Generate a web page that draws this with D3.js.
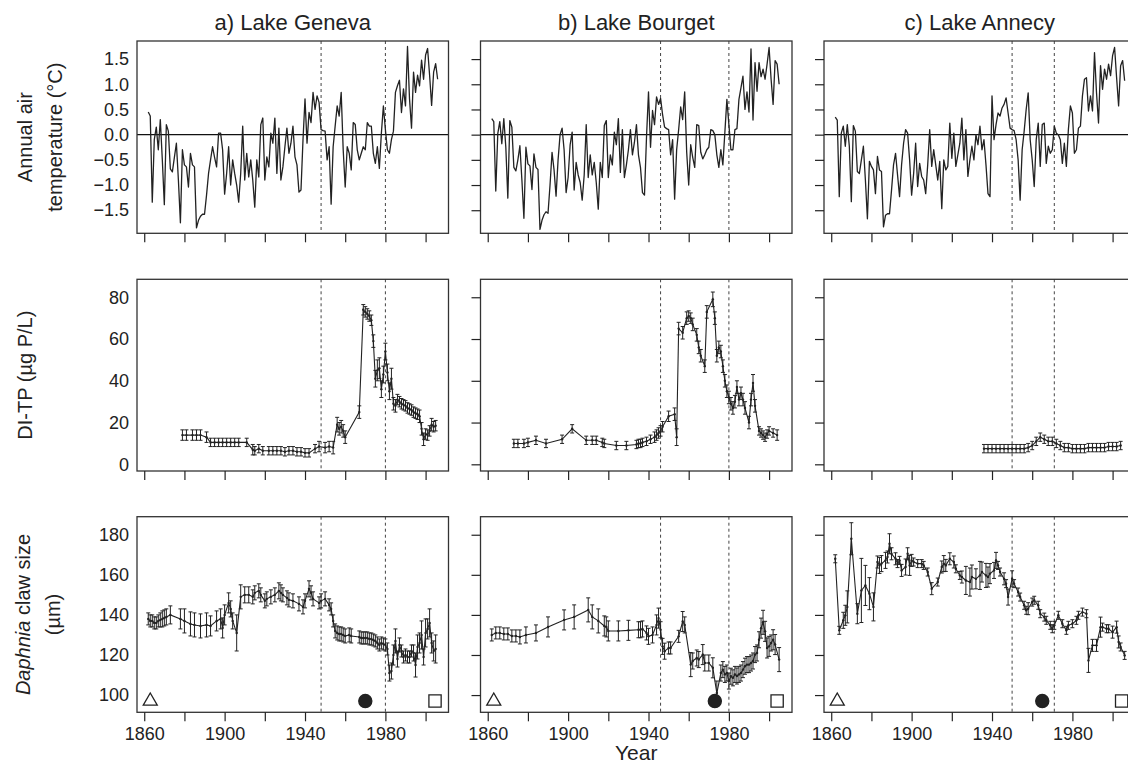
<!DOCTYPE html>
<html>
<head>
<meta charset="utf-8">
<script src="https://cdn.jsdelivr.net/npm/d3@7"></script>
<style>
  body { margin: 0; background: #fff; }
</style>
</head>
<body>
<div id="vis"></div>
<script>

// Lake names, period lines and the three sediment markers for each column
const LAKES = ["a) Lake Geneva", "b) Lake Bourget", "c) Lake Annecy"];
const PERIOD_LINES = [[1948, 1980], [1946, 1980], [1950, 1971]];
const MARKER_YEARS = [[1863, 1970, 2004.7], [1863, 1973, 2004], [1863, 1965, 2004.5]];
const MARKER_VALUE = 97;

// Annual air temperature anomalies (first year 1862)
const TEMP_START = 1862;
const GENEVA_TEMP = [
  0.45, 0.37, -1.34, -0.10, 0.15, -0.30, 0.30, -0.50, -1.39, 0.20,
  0.07, -0.68, -0.74, -0.45, -0.17, -0.90, -1.75, -0.30, -0.60, -0.64,
  -1.04, -0.37, -0.60, -0.64, -1.85, -1.70, -1.62, -1.58, -1.58, -1.20,
  -0.77, -0.50, -0.24, -0.45, -0.64, 0.03, 0.03, -0.30, -1.18, -0.77,
  -0.24, -1.00, -0.50, -0.77, -1.00, -1.34, -0.77, 0.17, -0.90, -0.37,
  -0.84, -0.50, -0.90, -1.44, -0.50, -0.84, 0.20, 0.33, -0.90, -0.44,
  -0.64, 0.03, -0.17, 0.33, -0.77, 0.13, -0.90, -0.64, -0.24, 0.13,
  -0.37, -0.17, 0.17, -0.44, -0.60, -1.14, -1.10, -0.10, 0.71, -0.17,
  0.44, 0.24, 0.84, 0.50, 0.77, 0.64, 0.10, 0.08, 0.07, -0.50,
  -0.24, -1.38, -0.24, 0.17, 0.57, 0.37, 0.84, -0.30, -1.04, -0.24,
  -0.37, -0.70, 0.24, 0.20, -0.30, -0.50, -0.37, -0.24, -0.30, 0.24,
  0.17, 0.17, -0.37, -0.57, -0.24, -0.67, 0.03, 0.57, 0.10, -0.30,
  -0.37, -0.10, 0.07, 0.84, 0.97, 1.08, 0.44, 0.91, 0.57, 1.75,
  0.71, 0.13, 1.24, 0.84, 1.18, 0.97, 1.48, 1.10, 1.58, 1.71,
  1.18, 0.58, 1.24, 1.41, 1.10
];
const BOURGET_TEMP = [
  0.32, 0.26, -1.12, 0.02, 0.26, -0.18, 0.32, -0.25, -1.26, 0.28,
  0.15, -0.65, -0.72, -0.50, -0.22, -0.90, -1.66, -0.25, -0.58, -0.62,
  -1.09, -0.38, -0.65, -0.69, -1.88, -1.70, -1.59, -1.53, -1.56, -1.00,
  -0.35, -0.70, -1.22, -0.50, 0.00, 0.13, -0.30, -1.15, -0.85, -0.20,
  0.05, -1.10, -0.55, -0.80, -0.95, -1.30, -0.80, 0.20, -0.85, -0.40,
  -0.80, -0.55, -0.95, -1.48, -0.55, -0.85, 0.18, 0.28, -0.85, -0.40,
  -0.60, 0.05, -0.20, 0.32, -0.75, 0.10, -0.85, -0.60, -0.30, 0.10,
  -0.40, -0.15, 0.20, -0.40, -0.65, -1.15, -1.20, -0.05, 0.85, -0.25,
  0.48, 0.20, 0.75, 0.60, 0.72, 0.40, 0.15, 0.12, 0.10, -0.40,
  -0.10, -1.28, -0.30, 0.10, 0.55, 0.30, 0.85, -0.35, -1.00, -0.20,
  -0.45, -0.65, 0.20, 0.18, -0.35, -0.48, -0.40, -0.30, -0.25, 0.10,
  0.08, 0.00, -0.40, -0.65, -0.30, -0.60, 0.05, 0.70, 0.20, -0.30,
  -0.30, 0.10, 0.12, 0.70, 0.93, 1.16, 0.50, 0.85, 0.45, 1.70,
  0.29, 1.43, 0.86, 1.43, 1.15, 1.30, 1.10, 1.40, 1.73, 1.10,
  0.60, 1.47, 1.40, 1.00
];
const ANNECY_TEMP = [
  0.35, 0.29, -1.23, 0.03, 0.17, -0.23, 0.20, -0.23, -1.33, 0.18,
  0.07, -0.73, -0.77, -0.50, -0.23, -0.90, -1.67, -0.53, -0.63, -0.70,
  -1.17, -0.43, -0.70, -0.73, -1.83, -1.60, -1.57, -1.57, -1.10, -0.60,
  -0.37, -0.80, -1.23, -0.60, -0.17, 0.10, 0.03, -0.50, -1.20, -0.77,
  -0.17, -1.03, -0.57, -0.83, -0.90, -1.17, -0.60, 0.10, -0.63, -0.30,
  -0.60, -0.90, -0.53, -1.47, -0.50, -0.70, -0.63, 0.23, -0.47, 0.03,
  -0.63, -0.40, -0.17, 0.33, -0.50, 0.10, -0.83, -0.50, -0.23, -0.50,
  0.00, -0.20, 0.17, -0.30, -0.10, -0.60, -1.17, -1.23, 0.77, -0.10,
  0.20, 0.43, 0.37, 0.53, 0.60, 0.73, 0.43, 0.13, 0.10, 0.08,
  -0.10, -0.50, -1.30, -0.30, 0.07, 0.50, 0.83, -0.10, -0.50, -1.03,
  -0.10, 0.23, -0.63, 0.20, 0.23, -0.57, -0.23, -0.37, -0.30, 0.17,
  0.03, 0.00, -0.10, -0.57, -0.17, -0.63, 0.10, 0.57, 0.43, -0.37,
  -0.30, 0.13, 0.17, 0.77, 1.10, 1.13, 0.47, 0.77, 0.47, 1.63,
  0.83, 0.23, 1.37, 0.90, 1.30, 1.10, 1.40, 1.17, 1.57, 1.73,
  1.13, 0.57, 1.37, 1.47, 1.07
];

// Diatom-inferred total phosphorus: [year, value, error]
const GENEVA_TP = [
  [1879, 14, 2.5], [1881, 14, 2.5], [1884, 14, 2.5], [1886, 14, 2.5], [1888, 14, 2.5], [1891, 13, 2.5],
  [1893, 10.5, 2], [1895, 10.5, 2], [1897, 10.5, 2], [1899, 10.5, 2], [1901, 10.5, 2], [1903, 10.5, 2],
  [1905, 10.5, 2], [1907, 10.5, 2], [1911, 10.5, 2],
  [1914, 7, 2.5], [1915, 6.5, 2], [1917, 7.5, 2], [1919, 6.5, 2],
  [1922, 6.5, 2], [1924, 6.5, 2], [1926, 6.5, 2], [1928, 6.5, 2], [1930, 6, 2], [1932, 6.5, 2],
  [1934, 6.5, 2], [1936, 6, 2], [1938, 6, 2], [1940, 5.5, 2], [1942, 5.5, 2],
  [1945, 7.5, 2], [1947, 8.5, 2.5], [1950, 8, 2.5], [1952, 8.5, 2.5], [1954, 8, 3],
  [1956, 19, 3.5], [1957, 17, 3], [1958, 18, 3], [1959, 16, 3], [1960, 13, 3], [1967, 25, 3],
  [1969, 74, 2.5], [1970, 73, 2.5], [1971, 72, 2.5], [1972, 71, 2.5], [1973, 69, 2.5], [1974, 59, 3],
  [1975, 41, 4], [1976, 45, 5], [1977, 46, 5], [1978, 36, 4], [1979, 43, 4], [1980, 54, 4],
  [1981, 44, 4], [1982, 35, 4], [1983, 41, 5], [1984, 29, 3], [1985, 28, 3], [1986, 31, 2.5],
  [1987, 30, 2.5], [1988, 29, 2.5], [1989, 28.5, 2.5], [1990, 28, 2.5], [1991, 27, 2.5],
  [1992, 26.5, 2.5], [1993, 26, 2.5], [1994, 25, 2.5], [1995, 24.5, 2.5], [1996, 24, 2.5],
  [1997, 23, 3], [1998, 17, 3], [1999, 12, 3], [2000, 14.5, 2.5], [2001, 14, 2.5], [2002, 16, 2.5],
  [2003, 19, 3], [2004, 18, 2.5], [2005, 18.5, 2.5]
];
const BOURGET_TP = [
  [1873, 10, 2], [1875, 10, 2], [1878, 10, 2], [1880, 10.5, 2], [1884, 11.5, 2], [1889, 10, 2],
  [1897, 12, 2], [1902, 17, 2], [1909, 11.5, 2], [1912, 11.5, 2], [1914, 11.5, 2], [1917, 10.5, 2],
  [1918, 10, 2], [1924, 9, 2], [1929, 9, 2], [1934, 9.5, 2], [1935, 10, 2], [1936, 10, 2],
  [1937, 10.5, 2], [1939, 11, 2], [1941, 12, 2], [1943, 13, 2.5], [1944, 14, 2.5], [1945, 15, 2.5],
  [1946, 16, 2.5], [1947, 18, 2.5], [1950, 23, 2.5], [1953, 24, 3], [1954, 13, 4], [1955, 65, 3],
  [1957, 63, 3], [1959, 70, 3], [1960, 71, 2.5], [1961, 70, 2.5], [1962, 67, 3], [1964, 62, 3],
  [1965, 56, 3], [1966, 52, 3], [1968, 47, 3], [1969, 73, 3], [1972, 79, 3.5], [1973, 70, 3],
  [1974, 52, 3], [1975, 56, 3], [1976, 54, 3], [1977, 47, 3], [1978, 40, 3], [1979, 35, 3],
  [1980, 32, 3], [1981, 29, 3], [1982, 27, 3], [1983, 30, 3], [1984, 37, 3], [1985, 31, 3],
  [1986, 34, 3], [1987, 31, 3], [1988, 27, 3], [1990, 20, 3], [1991, 31, 3], [1992, 39, 4],
  [1993, 28, 3], [1995, 16, 2], [1996, 15, 2], [1997, 14, 2], [1998, 13, 2], [1999, 14.5, 2],
  [2000, 16, 2], [2002, 15, 2], [2004, 14, 2.5]
];
const ANNECY_TP = [
  [1936, 7.5, 2], [1938, 7.5, 2], [1940, 7.5, 2], [1942, 7.5, 2], [1944, 7.5, 2], [1946, 7.5, 2],
  [1948, 7.5, 2], [1950, 7.5, 2], [1952, 7.5, 2], [1954, 7.5, 2], [1956, 7.5, 2], [1958, 8, 2],
  [1960, 9, 2], [1962, 11, 2], [1964, 13, 2], [1966, 12, 2], [1968, 11, 2], [1970, 11, 2],
  [1972, 10, 2], [1974, 9, 2], [1976, 8, 2], [1978, 8, 2], [1980, 7.5, 2], [1982, 7.5, 2],
  [1984, 7.5, 2], [1986, 7.5, 2], [1988, 8, 2], [1990, 8, 2], [1992, 8, 2], [1994, 8, 2],
  [1996, 8, 2], [1998, 8.5, 2], [2000, 8.5, 2], [2002, 8.5, 2], [2004, 9, 2]
];

// Daphnia claw size: [year, value, error]
const GENEVA_CLAW = [
  [1862, 138, 3], [1863, 137, 3], [1864, 137, 3], [1865, 136, 3], [1866, 136, 3], [1867, 137, 3],
  [1868, 137.5, 3.5], [1869, 138, 4], [1870, 138.5, 4], [1871, 139, 4], [1873, 140, 4.5],
  [1878, 138, 5], [1880, 137, 6], [1883, 135.5, 6], [1885, 135, 6], [1888, 134.5, 6], [1891, 135, 6],
  [1893, 134.5, 5], [1896, 137, 5], [1898, 138, 5], [1899, 133.5, 5], [1900, 140, 5], [1902, 146, 5],
  [1903, 143, 4], [1904, 137, 4], [1906, 131, 9], [1908, 149, 6], [1910, 150, 4], [1912, 150, 4],
  [1914, 149, 3.5], [1915, 151, 3.5], [1917, 152, 3.5], [1918, 150, 3.5], [1920, 147, 3.5],
  [1921, 148, 3.5], [1923, 149, 3.5], [1925, 150, 3.5], [1927, 152, 4], [1928, 151, 4],
  [1929, 150, 3.5], [1931, 148.5, 3.5], [1932, 147.5, 3.5], [1934, 147, 3.5], [1937, 145.5, 3.5],
  [1939, 144, 3.5], [1940, 147, 3.5], [1942, 153, 4], [1943, 151, 3.5], [1944, 148, 3.5],
  [1947, 146, 3], [1948, 147, 3.5], [1950, 148, 3.5], [1952, 145, 3], [1953, 143, 3], [1954, 137, 3],
  [1955, 132, 3.5], [1956, 131, 3.5], [1957, 130.5, 3.5], [1958, 130.5, 3.5], [1959, 130, 3.5],
  [1960, 129.5, 3.5], [1962, 130, 3.5], [1963, 129.5, 3.5], [1967, 129, 3], [1968, 128.5, 3],
  [1969, 128.5, 3], [1970, 128.5, 3], [1971, 128.5, 3], [1972, 128, 3], [1973, 128, 3],
  [1974, 127.5, 3], [1975, 127, 3], [1976, 126, 3], [1977, 125, 3], [1978, 126, 3], [1979, 125.5, 3],
  [1980, 125, 3], [1981, 123, 3], [1982, 111, 4], [1983, 112, 4], [1984, 120, 5], [1985, 127, 6],
  [1986, 118, 4], [1987, 125, 3.5], [1988, 122, 3], [1989, 119, 3], [1990, 120, 3], [1991, 119, 3],
  [1992, 119, 3], [1993, 122, 3], [1994, 121, 4], [1995, 115, 6], [1996, 124, 6], [1997, 126, 5],
  [1998, 130, 7], [1999, 119, 4], [2000, 131, 7], [2001, 133, 5], [2002, 136, 7], [2003, 126, 5],
  [2004, 122, 5], [2005, 123, 7]
];
const BOURGET_CLAW = [
  [1862, 130, 3], [1864, 131, 3], [1866, 131, 3], [1868, 130.5, 3], [1870, 130.5, 3], [1872, 129.5, 3],
  [1874, 129.5, 3], [1876, 129, 3.5], [1879, 130, 4], [1884, 131, 4], [1890, 134, 5], [1898, 137.5, 5],
  [1903, 139, 6], [1910, 142.5, 6], [1912, 139, 6], [1915, 137, 6], [1918, 134.5, 5], [1919, 134, 5],
  [1920, 132, 5], [1925, 132, 5], [1930, 132.3, 5], [1935, 132.6, 4], [1936, 132.6, 4], [1937, 133, 4],
  [1939, 131, 3.5], [1940, 129.3, 4], [1942, 130, 4], [1944, 135, 5], [1945, 138.4, 5], [1946, 132.6, 4],
  [1947, 124.3, 4], [1948, 121.9, 4], [1950, 123.5, 3], [1951, 123.5, 3], [1955, 129.3, 3],
  [1957, 136.7, 5], [1958, 135, 4], [1961, 115.2, 6], [1962, 117, 4], [1964, 118.5, 4],
  [1965, 117.7, 4], [1967, 120.2, 5], [1968, 116, 4], [1970, 116, 4], [1972, 113.6, 5], [1974, 101, 6],
  [1976, 111, 4], [1977, 112.7, 4], [1978, 110.3, 4], [1979, 111, 4], [1980, 107, 4], [1981, 109.4, 4],
  [1982, 108.6, 4], [1983, 110.3, 4], [1984, 109.5, 4], [1985, 110.3, 4], [1986, 111, 4],
  [1987, 112.7, 4], [1988, 114.4, 4], [1989, 115.2, 4], [1990, 115.2, 4], [1991, 116, 4], [1992, 117, 4],
  [1993, 120.2, 4], [1994, 121, 4], [1995, 127.6, 4], [1996, 133.4, 5], [1997, 136.3, 6],
  [1998, 131.8, 5], [1999, 123.5, 5], [2000, 124.3, 5], [2001, 126, 4], [2002, 127.6, 5],
  [2003, 125.2, 5], [2005, 117.7, 6]
];
const ANNECY_CLAW = [
  [1862, 168, 2], [1864, 132.3, 2], [1866, 137.3, 4], [1867, 139.8, 5], [1868, 144, 8], [1870, 178, 8],
  [1873, 140.6, 5], [1875, 152.2, 16], [1877, 154.7, 10], [1879, 150.6, 8], [1881, 144, 7],
  [1883, 166.4, 3], [1884, 164.7, 4], [1885, 165.6, 4], [1887, 167.2, 4], [1888, 168.9, 3],
  [1889, 175.5, 5], [1890, 170.5, 3], [1892, 168, 3], [1893, 165.6, 2], [1894, 167.2, 2],
  [1895, 162.2, 3], [1897, 163.9, 4], [1898, 170.5, 3], [1899, 164.7, 5], [1900, 167.2, 3],
  [1901, 166.4, 2], [1903, 165.6, 2], [1905, 165.6, 2], [1906, 164.7, 2], [1908, 161.4, 2],
  [1910, 153.1, 3], [1913, 156.4, 2], [1915, 163.9, 3], [1916, 165.6, 4], [1917, 164.7, 3],
  [1919, 168, 3], [1921, 166.4, 3], [1922, 163, 2], [1924, 159.7, 2], [1925, 158.9, 3],
  [1927, 157.2, 7], [1929, 156.4, 7], [1930, 158.9, 6], [1932, 158, 5], [1934, 159.7, 7],
  [1935, 161.4, 5], [1937, 159.7, 6], [1938, 158.9, 5], [1939, 160.6, 5], [1941, 162.2, 4],
  [1942, 167.2, 4], [1943, 164.7, 2], [1944, 161.4, 2], [1946, 158, 3], [1947, 155.6, 2],
  [1948, 148.9, 4], [1950, 158, 4], [1951, 155.6, 2], [1953, 151.4, 2], [1954, 148.9, 2],
  [1956, 144.8, 2], [1957, 142.3, 2], [1958, 143.1, 3], [1960, 146.4, 2], [1961, 147.3, 2],
  [1963, 144.8, 2], [1964, 140.6, 2], [1966, 138.9, 2], [1967, 137.3, 2], [1969, 134.8, 2],
  [1970, 133.1, 2], [1971, 134.8, 2], [1973, 139.8, 2], [1975, 135.6, 2], [1977, 132.3, 2],
  [1978, 134.8, 2], [1980, 135.6, 2], [1982, 137.3, 2], [1983, 139.8, 2], [1985, 141.4, 2],
  [1987, 140.6, 2], [1988, 117.3, 6], [1990, 124.8, 3], [1992, 124.8, 3], [1994, 133.9, 5],
  [1995, 133.9, 2], [1997, 133.1, 2], [1998, 133.1, 2], [2000, 131.4, 3], [2002, 133.9, 3],
  [2003, 126.5, 3], [2004, 124, 2], [2006, 119.8, 2]
];

// Tick values
const X_TICKS = [1860, 1880, 1900, 1920, 1940, 1960, 1980, 2000];
const X_LABELS = [1860, 1900, 1940, 1980];
const Y_TICKS = [
  [-1.5, -1.0, -0.5, 0.0, 0.5, 1.0, 1.5],
  [0, 20, 40, 60, 80],
  [100, 120, 140, 160, 180]
];

// Frame and panel layout
const FRAME_WIDTH = 1128;
const FRAME_HEIGHT = 764;
const COL_LEFT = [137, 480.5, 824];
const PANEL_WIDTH = 311.5;
const ROW_TOP = [41, 279.3, 516.7];
const ROW_HEIGHT = [192.3, 191.7, 195.6];
const FONT = "'Liberation Sans', Arial, Helvetica, sans-serif";
const INK = "#222";

const FRAME = d3.select("#vis")
                .append("svg")
                  .attr("width", FRAME_WIDTH)
                  .attr("height", FRAME_HEIGHT)
                  .attr("font-family", FONT);

// Scales shared by every panel of a row
const X_SCALE = d3.scaleLinear()
                  .domain([1856.4, 2011.4])
                  .range([0, PANEL_WIDTH]);

const Y_SCALES = [
  d3.scaleLinear().domain([-1.958, 1.859]).range([ROW_HEIGHT[0], 0]),
  d3.scaleLinear().domain([-3.2, 88.6]).range([ROW_HEIGHT[1], 0]),
  d3.scaleLinear().domain([91.4, 189]).range([ROW_HEIGHT[2], 0])
];
const Y_FORMATS = [d3.format(".1f"), d3.format("d"), d3.format("d")];

// Data tables built from the arrays above
const TEMP_DATA = [GENEVA_TEMP, BOURGET_TEMP, ANNECY_TEMP]
  .map((vals) => vals.map((v, i) => ({year: TEMP_START + i, value: v})));
const TP_DATA = [GENEVA_TP, BOURGET_TP, ANNECY_TP]
  .map((rows) => rows.map((d) => ({year: d[0], value: d[1], err: d[2]})));
const CLAW_DATA = [GENEVA_CLAW, BOURGET_CLAW, ANNECY_CLAW]
  .map((rows) => rows.map((d) => ({year: d[0], value: d[1], err: d[2]})));

// Draw a series with error bars (used for DI-TP and claw size)
function drawErrorSeries(g, data, yScale) {
  const line = d3.line()
                 .x((d) => X_SCALE(d.year))
                 .y((d) => yScale(d.value));

  g.append("path")
    .datum(data)
    .attr("d", line)
    .attr("fill", "none")
    .attr("stroke", INK)
    .attr("stroke-width", 1.1);

  const bars = g.selectAll(".ebar")
                .data(data)
                .enter()
                .append("g")
                  .attr("class", "ebar")
                  .attr("stroke", INK)
                  .attr("stroke-width", 1);

  bars.append("line")
    .attr("x1", (d) => X_SCALE(d.year))
    .attr("x2", (d) => X_SCALE(d.year))
    .attr("y1", (d) => yScale(d.value - d.err))
    .attr("y2", (d) => yScale(d.value + d.err));

  // caps
  [-1, 1].forEach((s) => {
    bars.append("line")
      .attr("x1", (d) => X_SCALE(d.year) - 2)
      .attr("x2", (d) => X_SCALE(d.year) + 2)
      .attr("y1", (d) => yScale(d.value + s * d.err))
      .attr("y2", (d) => yScale(d.value + s * d.err));
  });

  g.selectAll(".pt")
    .data(data)
    .enter()
    .append("circle")
      .attr("class", "pt")
      .attr("cx", (d) => X_SCALE(d.year))
      .attr("cy", (d) => yScale(d.value))
      .attr("r", 1.2)
      .attr("fill", INK);
}

// Build every panel
LAKES.forEach((lake, c) => {
  for (let r = 0; r < 3; r++) {
    const h = ROW_HEIGHT[r];
    const yScale = Y_SCALES[r];
    const g = FRAME.append("g")
                   .attr("transform", "translate(" + COL_LEFT[c] + "," + ROW_TOP[r] + ")");

    // dashed period lines
    g.selectAll(".period")
      .data(PERIOD_LINES[c])
      .enter()
      .append("line")
        .attr("x1", (d) => X_SCALE(d))
        .attr("x2", (d) => X_SCALE(d))
        .attr("y1", 0)
        .attr("y2", h)
        .attr("stroke", "#444")
        .attr("stroke-width", 1)
        .attr("stroke-dasharray", "3,3");

    if (r === 0) {
      // zero line and temperature curve
      g.append("line")
        .attr("x1", 0)
        .attr("x2", PANEL_WIDTH)
        .attr("y1", yScale(0))
        .attr("y2", yScale(0))
        .attr("stroke", "#111")
        .attr("stroke-width", 1.4);

      g.append("path")
        .datum(TEMP_DATA[c])
        .attr("d", d3.line().x((d) => X_SCALE(d.year)).y((d) => yScale(d.value)))
        .attr("fill", "none")
        .attr("stroke", INK)
        .attr("stroke-width", 1.3)
        .attr("stroke-linejoin", "round");
    } else if (r === 1) {
      drawErrorSeries(g, TP_DATA[c], yScale);
    } else {
      drawErrorSeries(g, CLAW_DATA[c], yScale);

      // sediment markers: triangle, filled circle, square
      const shapes = [
        {year: MARKER_YEARS[c][0], type: d3.symbolTriangle, size: 85, fill: "#fff"},
        {year: MARKER_YEARS[c][1], type: d3.symbolCircle, size: 135, fill: INK},
        {year: MARKER_YEARS[c][2], type: d3.symbolSquare, size: 150, fill: "#fff"}
      ];
      g.selectAll(".marker")
        .data(shapes)
        .enter()
        .append("path")
          .attr("class", "marker")
          .attr("transform", (d) => "translate(" + X_SCALE(d.year) + "," + yScale(MARKER_VALUE) + ")")
          .attr("d", (d) => d3.symbol(d.type, d.size)())
          .attr("fill", (d) => d.fill)
          .attr("stroke", INK)
          .attr("stroke-width", 1.3);
    }

    // panel frame
    g.append("rect")
      .attr("width", PANEL_WIDTH)
      .attr("height", h)
      .attr("fill", "none")
      .attr("stroke", "#333")
      .attr("stroke-width", 1.3);

    // x axis
    g.append("g")
      .attr("transform", "translate(0," + h + ")")
      .call(d3.axisBottom(X_SCALE)
              .tickValues(X_TICKS)
              .tickSize(9)
              .tickPadding(6)
              .tickFormat((d) => (r === 2 && X_LABELS.includes(d)) ? d : ""))
      .call((a) => a.select(".domain").remove())
      .attr("font-size", 18)
      .attr("font-family", FONT)
      .style("color", INK)
      .selectAll("line").attr("stroke-width", 1.2);

    // y axis: labels on the first column, ticks on the others
    g.append("g")
      .call(d3.axisLeft(yScale)
              .tickValues(Y_TICKS[r])
              .tickSize(c === 0 ? 0 : 9)
              .tickPadding(8)
              .tickFormat(c === 0 ? Y_FORMATS[r] : () => ""))
      .call((a) => a.select(".domain").remove())
      .attr("font-size", 18)
      .attr("font-family", FONT)
      .style("color", INK)
      .selectAll("line").attr("stroke-width", 1.2);
  }

  // column title
  FRAME.append("text")
    .attr("x", COL_LEFT[c] + PANEL_WIDTH / 2)
    .attr("y", 30)
    .attr("text-anchor", "middle")
    .attr("font-size", 22)
    .attr("fill", INK)
    .text(lake);
});

// Row titles
function rowTitle(x, r, build) {
  const t = FRAME.append("text")
                 .attr("transform", "translate(" + x + "," + (ROW_TOP[r] + ROW_HEIGHT[r] / 2) + ") rotate(-90)")
                 .attr("text-anchor", "middle")
                 .attr("dy", "0.35em")
                 .attr("font-size", 20)
                 .attr("fill", INK);
  build(t);
}
rowTitle(25, 0, (t) => t.text("Annual air"));
rowTitle(55, 0, (t) => t.text("temperature (\u00B0C)"));
rowTitle(25, 1, (t) => t.text("DI-TP (\u00B5g P/L)"));
rowTitle(23, 2, (t) => {
  t.append("tspan").attr("font-style", "italic").text("Daphnia");
  t.append("tspan").text(" claw size");
});
rowTitle(53, 2, (t) => t.text("(\u00B5m)"));

// x axis title
FRAME.append("text")
  .attr("x", COL_LEFT[1] + PANEL_WIDTH / 2)
  .attr("y", 760)
  .attr("text-anchor", "middle")
  .attr("font-size", 21)
  .attr("fill", INK)
  .text("Year");

</script>
</body>
</html>
